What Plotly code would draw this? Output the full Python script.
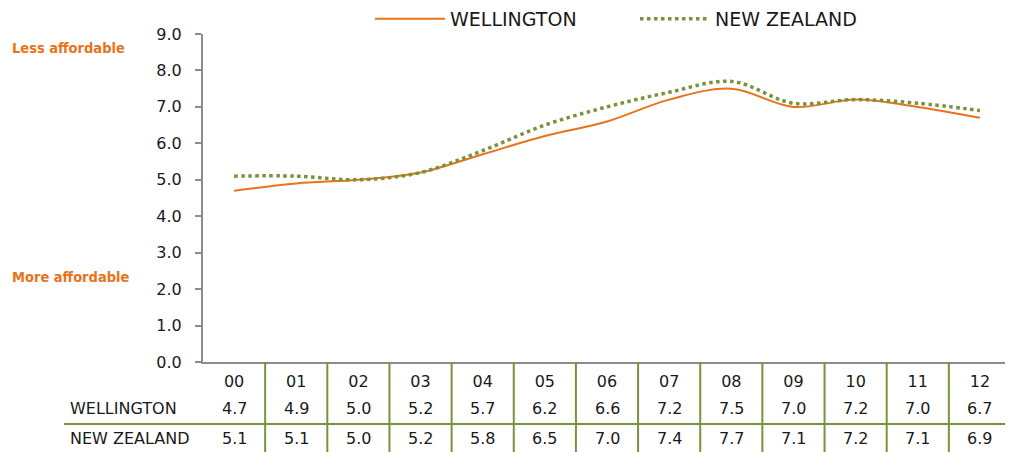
import plotly.graph_objects as go

categories = ["00", "01", "02", "03", "04", "05", "06", "07", "08", "09", "10", "11", "12"]
wellington = [4.7, 4.9, 5.0, 5.2, 5.7, 6.2, 6.6, 7.2, 7.5, 7.0, 7.2, 7.0, 6.7]
new_zealand = [5.1, 5.1, 5.0, 5.2, 5.8, 6.5, 7.0, 7.4, 7.7, 7.1, 7.2, 7.1, 6.9]
y_ticks = [0, 1, 2, 3, 4, 5, 6, 7, 8, 9]

ORANGE = "#E8731A"
GREEN = "#77933C"
AXIS = "#8C8C8C"
FONT = "DejaVu Sans"
SIDE_FONT = "Liberation Sans Narrow, DejaVu Sans Condensed"

# page body has an 8px margin; figure fills the rest of the 1013x452 window
OFF = 8
FW, FH = 1013 - OFF, 452 - OFF


def px(x):
    return (x - OFF) / FW


def py(y):
    return 1 - (y - OFF) / FH


xs = list(range(len(categories)))

fig = go.Figure()
fig.add_trace(go.Scatter(
    x=xs, y=wellington, name="WELLINGTON", mode="lines",
    line=dict(color=ORANGE, width=2, shape="spline", smoothing=1.0),
))
fig.add_trace(go.Scatter(
    x=xs, y=new_zealand, name="NEW ZEALAND", mode="lines",
    line=dict(color=GREEN, width=3.5, shape="spline", smoothing=1.0, dash="dot"),
))

x_dom = [px(203), min(1.0, px(1011))]
y_dom = [py(362), py(34)]

fig.update_layout(
    width=FW, height=FH,
    margin=dict(l=0, r=0, t=0, b=0, autoexpand=False),
    paper_bgcolor="white", plot_bgcolor="white",
    font=dict(family=FONT, size=16, color="#1a1a1a"),
    showlegend=True,
    legend=dict(
        orientation="h", x=px(370), y=py(19), xanchor="left", yanchor="middle",
        font=dict(family=FONT, size=19, color="#1a1a1a"),
        entrywidth=180, entrywidthmode="pixels",
        bgcolor="rgba(0,0,0,0)", itemwidth=70,
    ),
    xaxis=dict(
        domain=x_dom, range=[-0.5, len(categories) - 0.5],
        tickmode="array", tickvals=xs, ticktext=categories,
        showgrid=False, zeroline=False, automargin=False,
        showline=True, linecolor=AXIS, linewidth=2,
        ticks="outside", ticklen=0, ticklabelstandoff=4,
        tickfont=dict(family=FONT, size=16, color="#1a1a1a"),
        fixedrange=True,
    ),
    yaxis=dict(
        domain=y_dom, range=[0, 9],
        tickmode="array", tickvals=y_ticks,
        ticktext=[f"{v:.1f}" for v in y_ticks],
        showgrid=False, zeroline=False, automargin=False,
        showline=True, linecolor=AXIS, linewidth=2,
        ticks="outside", ticklen=6, tickcolor=AXIS, tickwidth=2,
        ticklabelstandoff=10,
        tickfont=dict(family=FONT, size=16, color="#1a1a1a"),
        fixedrange=True,
    ),
)

# extend x-axis line slightly left like reference
fig.add_shape(type="line", xref="paper", yref="paper",
              x0=px(197), x1=px(203), y0=y_dom[0], y1=y_dom[0],
              line=dict(color=AXIS, width=2))

# Side labels
fig.add_annotation(text="<b>Less affordable</b>", xref="paper", yref="paper",
                   x=px(10), y=py(48), xanchor="left", yanchor="middle",
                   showarrow=False,
                   font=dict(family=SIDE_FONT, size=14.5, color=ORANGE))
fig.add_annotation(text="<b>More affordable</b>", xref="paper", yref="paper",
                   x=px(10), y=py(277), xanchor="left", yanchor="middle",
                   showarrow=False,
                   font=dict(family=SIDE_FONT, size=14.5, color=ORANGE))

# Data table
row_y = {"WELLINGTON": py(408), "NEW ZEALAND": py(438)}
for label, vals in (("WELLINGTON", wellington), ("NEW ZEALAND", new_zealand)):
    fig.add_annotation(text=label, xref="paper", yref="paper",
                       x=px(68), y=row_y[label], xanchor="left", yanchor="middle",
                       showarrow=False, font=dict(family=FONT, size=16, color="#1a1a1a"))
    for i, v in enumerate(vals):
        fig.add_annotation(text=f"{v:.1f}", xref="x", yref="paper",
                           x=i, y=row_y[label], xanchor="center", yanchor="middle",
                           showarrow=False, font=dict(family=FONT, size=16, color="#1a1a1a"))

# table grid lines
fig.add_shape(type="line", xref="paper", yref="paper",
              x0=px(64), x1=1.0, y0=py(424), y1=py(424),
              line=dict(color=GREEN, width=2))
for i in range(len(categories) - 1):
    fig.add_shape(type="line", xref="x", yref="paper",
                  x0=i + 0.5, x1=i + 0.5, y0=0, y1=y_dom[0],
                  line=dict(color=GREEN, width=2))

fig.write_html("out.html")
